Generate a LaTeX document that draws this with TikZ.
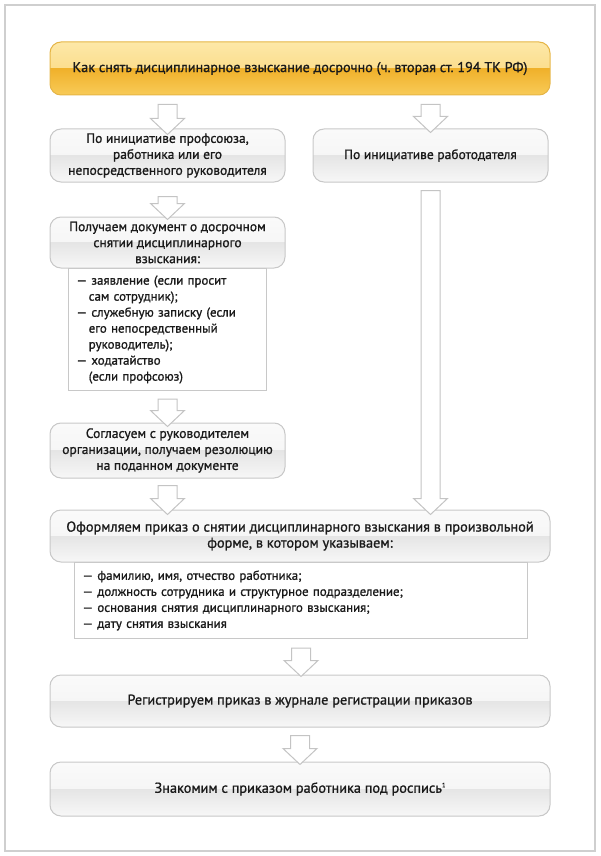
\documentclass[tikz,border=0pt]{standalone}
\usepackage{fontspec}
\setmainfont{PT Sans}[FakeBold=1.0]
\usetikzlibrary{calc}
\definecolor{framec}{HTML}{CFCFCF}
\definecolor{boxline}{HTML}{C8C8C8}
\definecolor{gA}{HTML}{FAFAFA}
\definecolor{gB}{HTML}{F2F2F2}
\definecolor{gC}{HTML}{E5E5E5}
\definecolor{gD}{HTML}{F7F7F7}
\definecolor{oA}{HTML}{FDE8A8}
\definecolor{oB}{HTML}{FAD472}
\definecolor{oC}{HTML}{F0B12A}
\definecolor{oD}{HTML}{F8CB58}
\definecolor{oline}{HTML}{E6B545}
\definecolor{txt}{HTML}{1A1A1A}
\definecolor{arrline}{HTML}{C4C4C4}
\tikzset{
  boxfont/.style={font=\fontsize{13.5}{16}\selectfont},
  widefont/.style={font=\fontsize{14.3}{16}\selectfont},
  listfont/.style={font=\fontsize{12.9}{16}\selectfont},
  gbox/.style={draw=boxline, line width=1pt, rounded corners=11pt, align=center,
    text=txt, boxfont, inner sep=1pt,
    path picture={
      \fill[sharp corners, top color=gA, bottom color=gB] (path picture bounding box.north west) rectangle (path picture bounding box.east);
      \fill[sharp corners, top color=gC, bottom color=gD] (path picture bounding box.west) rectangle (path picture bounding box.south east);
    }},
  obox/.style={draw=oline, line width=1pt, rounded corners=11pt, align=center,
    text=txt, font=\fontsize{14.2}{16}\selectfont, inner sep=1pt,
    path picture={
      \fill[sharp corners, top color=oA, bottom color=oB] (path picture bounding box.north west) rectangle (path picture bounding box.east);
      \fill[sharp corners, top color=oC, bottom color=oD] (path picture bounding box.west) rectangle (path picture bounding box.south east);
    }},
  listbox/.style={draw=boxline, line width=1pt, fill=white, align=left, text=txt,
    listfont, inner xsep=8pt, inner ysep=0pt, anchor=north west},
  blockarr/.style={draw=arrline, fill=white, line width=1pt, line join=miter}
}
\newcommand\blockarrow[2]{%
  \draw[blockarr] let \p1=(#1), \p2=(#2) in
    (\x1-9.5pt,\y1) -- (\x1+9.5pt,\y1) -- (\x1+9.5pt,\y2+16pt) -- (\x1+17pt,\y2+16pt)
    -- (\x1,\y2) -- (\x1-17pt,\y2+16pt) -- (\x1-9.5pt,\y2+16pt) -- cycle;}
\newcommand\ind{\hspace*{0.95em}}
\newcommand\fnmark[1]{\raisebox{0.75ex}{\fontsize{6.5}{7}\selectfont #1}}
\begin{document}
\begin{tikzpicture}[x=1pt,y=1pt]
\useasboundingbox (0,0) rectangle (600,-856);
\draw[framec, line width=1.5pt] (5,-5) rectangle (595,-851);

\node[obox, minimum width=500pt, minimum height=53pt] (title) at (300,-68.5)
  {Как снять дисциплинарное взыскание досрочно (ч.~вторая ст.~194 ТК РФ)};

\node[gbox, minimum width=235pt, minimum height=53pt] (b1l) at (167.5,-155.5)
  {По инициативе профсоюза,\\работника или его\\непосредственного руководителя};
\node[gbox, minimum width=235pt, minimum height=53pt] (b1r) at (430.5,-155.5)
  {По инициативе работодателя};

\node[listbox, minimum width=198pt, minimum height=122pt, text width=182pt] (l2) at (68,-268)
  {— заявление (если просит\\\ind сам сотрудник);\\— служебную записку (если\\\ind его непосредственный\\\ind руководитель);\\— ходатайство\\\ind (если профсоюз)};
\node[gbox, minimum width=235pt, minimum height=51pt] (b2) at (167.5,-242.5)
  {Получаем документ о досрочном\\снятии дисциплинарного\\взыскания:};

\node[gbox, minimum width=235pt, minimum height=55pt] (b3) at (167.5,-450.5)
  {Согласуем с руководителем\\организации, получаем резолюцию\\на поданном документе};

\node[listbox, minimum width=453pt, minimum height=76pt, text width=437pt] (l4) at (74,-562)
  {— фамилию, имя, отчество работника;\\— должность сотрудника и структурное подразделение;\\— основания снятия дисциплинарного взыскания;\\— дату снятия взыскания};
\node[gbox, widefont, minimum width=500pt, minimum height=52pt] (b4) at (300,-536)
  {Оформляем приказ о снятии дисциплинарного взыскания в произвольной\\форме, в котором указываем:};

\node[gbox, widefont, minimum width=500pt, minimum height=52pt] (b5) at (300,-701)
  {Регистрируем приказ в журнале регистрации приказов};
\node[gbox, widefont, minimum width=500pt, minimum height=54pt] (b6) at (300,-789)
  {Знакомим с приказом работника под роспись\fnmark{1}};

\coordinate (s1) at ($(title.south -| b1l.north)+(0,-9)$);
\coordinate (t1) at ($(b1l.north)+(0,-6)$);
\blockarrow{s1}{t1}
\coordinate (s2) at ($(title.south -| b1r.north)+(0,-9)$);
\coordinate (t2) at ($(b1r.north)+(0,-4)$);
\blockarrow{s2}{t2}
\coordinate (s3) at ($(b1l.south)+(0,-14)$);
\coordinate (t3) at ($(b2.north)+(0,-3)$);
\blockarrow{s3}{t3}
\coordinate (s4) at ($(l2.south)+(0,-8)$);
\coordinate (t4) at ($(b3.north)+(0,-4)$);
\blockarrow{s4}{t4}
\coordinate (s5) at ($(b3.south)+(0,-7)$);
\coordinate (t5) at ($(b4.north -| b3.south)+(0,-5)$);
\blockarrow{s5}{t5}
\coordinate (s6) at ($(b1r.south)+(0,-8)$);
\coordinate (t6) at ($(b4.north -| b1r.south)+(0,-5)$);
\blockarrow{s6}{t6}
\coordinate (s7) at ($(l4.south)+(0,-9)$);
\coordinate (t7) at ($(b5.north)+(0,-2)$);
\blockarrow{s7}{t7}
\coordinate (s8) at ($(b5.south)+(0,-8)$);
\coordinate (t8) at ($(b6.north)+(0,-3)$);
\blockarrow{s8}{t8}
\end{tikzpicture}
\end{document}
